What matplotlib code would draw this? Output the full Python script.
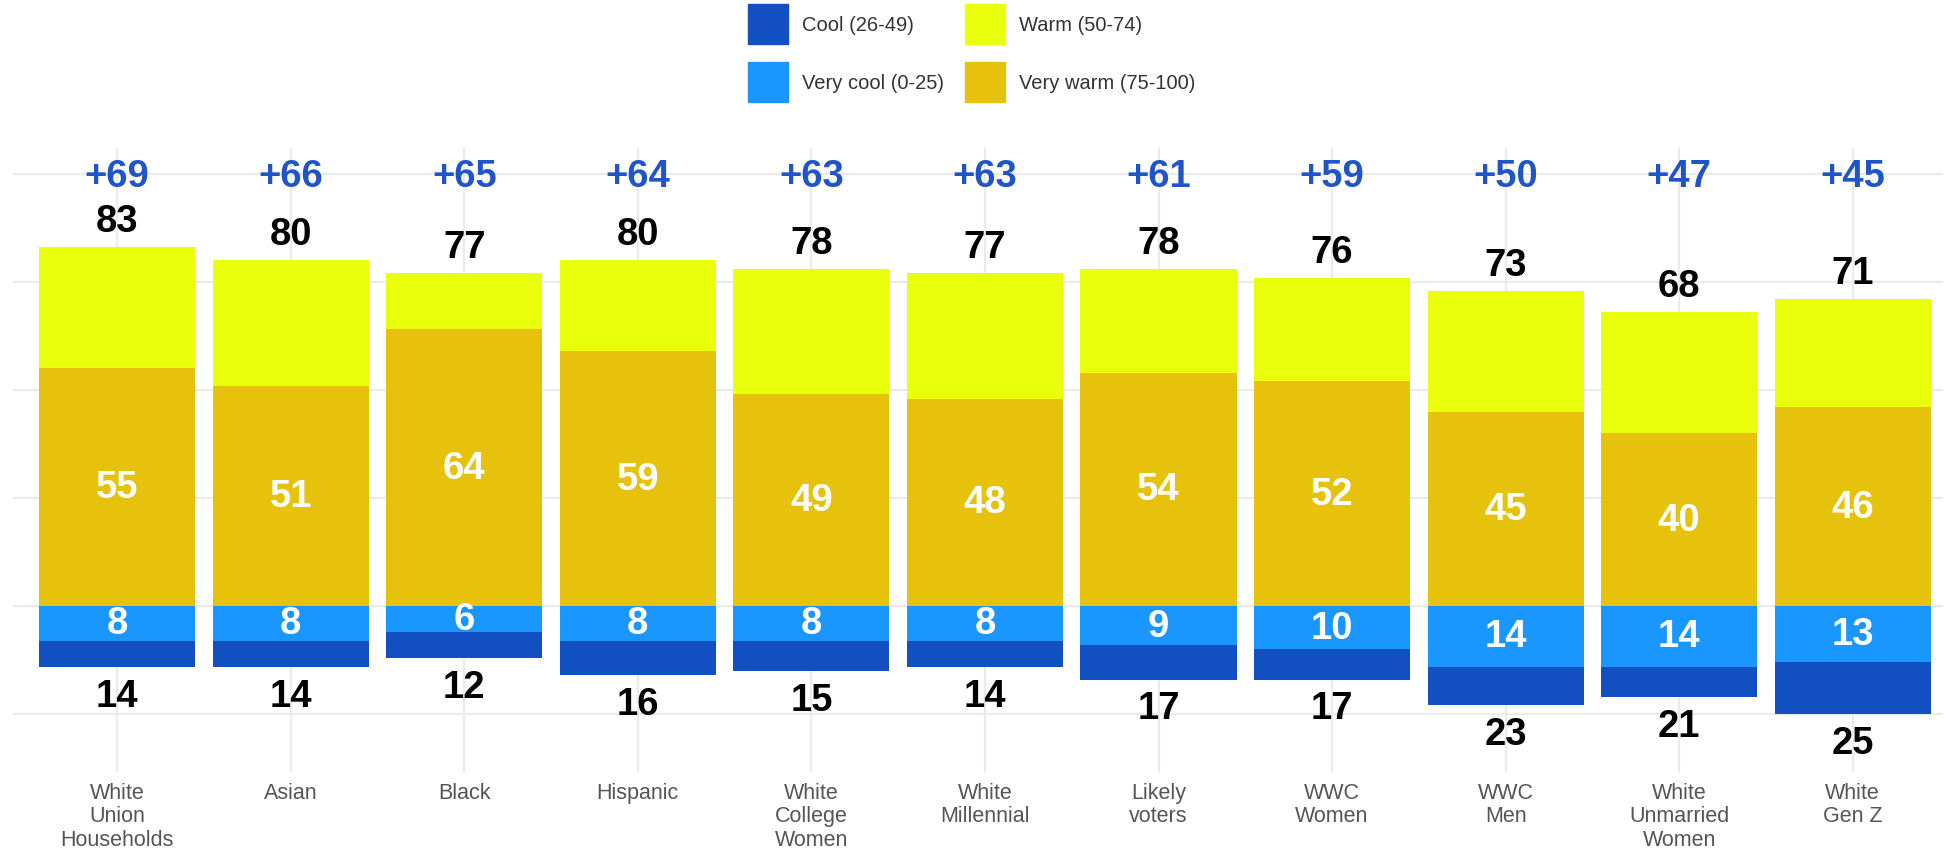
import numpy as np
import matplotlib
matplotlib.use('Agg')
import matplotlib.pyplot as plt
import matplotlib.patches as mpatches

plt.rcParams['font.family'] = ['Liberation Sans', 'DejaVu Sans']

categories = ['White\nUnion\nHouseholds', 'Asian', 'Black', 'Hispanic', 'White\nCollege\nWomen',
              'White\nMillennial', 'Likely\nvoters', 'WWC\nWomen', 'WWC\nMen',
              'White\nUnmarried\nWomen', 'White\nGen Z']
warm_total = [83, 80, 77, 80, 78, 77, 78, 76, 73, 68, 71]
very_warm = [55, 51, 64, 59, 49, 48, 54, 52, 45, 40, 46]
cool_total = [14, 14, 12, 16, 15, 14, 17, 17, 23, 21, 25]
very_cool = [8, 8, 6, 8, 8, 8, 9, 10, 14, 14, 13]
net = [69, 66, 65, 64, 63, 63, 61, 59, 50, 47, 45]

C_COOL = '#124fc0'
C_VCOOL = '#1a97ff'
C_WARM = '#eaff0b'
C_VWARM = '#e7c20c'
C_NET = '#1f55c8'
GRID = '#ebebeb'

wt = np.array(warm_total)
vw = np.array(very_warm)
ct = np.array(cool_total)
vc = np.array(very_cool)
x = np.arange(len(categories))
w = 0.9

fig = plt.figure(figsize=(19.59, 8.53), dpi=100)
ax = fig.add_axes([13 / 1959, 1 - 773 / 853, (1943 - 13) / 1959, (773 - 149) / 853])

for yv in [-25, 0, 25, 50, 75, 100]:
    ax.axhline(yv, color=GRID, lw=1.6, zorder=0)
for xv in x:
    ax.axvline(xv, color=GRID, lw=1.6, zorder=0)

ax.bar(x, vw, width=w, color=C_VWARM, zorder=2)
ax.bar(x, wt - vw, bottom=vw, width=w, color=C_WARM, zorder=2)
ax.bar(x, -vc, width=w, color=C_VCOOL, zorder=2)
ax.bar(x, -(ct - vc), bottom=-vc, width=w, color=C_COOL, zorder=2)

fs = 27.5
for i in range(len(x)):
    ax.text(x[i], 99.6, f'+{net[i]}', ha='center', va='center', fontsize=fs,
            fontweight='bold', color=C_NET, zorder=3)
    ax.text(x[i], wt[i] + 6.0, str(wt[i]), ha='center', va='center', fontsize=fs,
            fontweight='bold', color='black', zorder=3)
    ax.text(x[i], vw[i] / 2, str(vw[i]), ha='center', va='center', fontsize=fs,
            fontweight='bold', color='white', zorder=3)
    ax.text(x[i], -vc[i] / 2, str(vc[i]), ha='center', va='center', fontsize=fs,
            fontweight='bold', color='white', zorder=3)
    ax.text(x[i], -ct[i] - 6.7, str(ct[i]), ha='center', va='center', fontsize=fs,
            fontweight='bold', color='black', zorder=3)

ax.set_xlim(-0.6, 10.52)
ax.set_ylim(-38.4, 106)
ax.set_xticks(x)
ax.set_xticklabels(categories, fontsize=15.5, color='#555555', linespacing=1.17)
ax.tick_params(axis='x', length=0, pad=7)
ax.set_yticks([])
for s in ax.spines.values():
    s.set_visible(False)

handles = [mpatches.Patch(color=C_COOL, label='Cool (26-49)'),
           mpatches.Patch(color=C_VCOOL, label='Very cool (0-25)'),
           mpatches.Patch(color=C_WARM, label='Warm (50-74)'),
           mpatches.Patch(color=C_VWARM, label='Very warm (75-100)')]
leg = fig.legend(handles=handles, ncol=2, loc='upper left',
                 bbox_to_anchor=(748 / 1959, 1 - 5 / 853), frameon=False,
                 fontsize=14.5, handlelength=1.99, handleheight=2.68,
                 labelspacing=0.9, columnspacing=1.05, handletextpad=0.7,
                 borderpad=0, borderaxespad=0)
for t in leg.get_texts():
    t.set_color('#333333')

plt.savefig('out.png', dpi=100)
plt.close()
